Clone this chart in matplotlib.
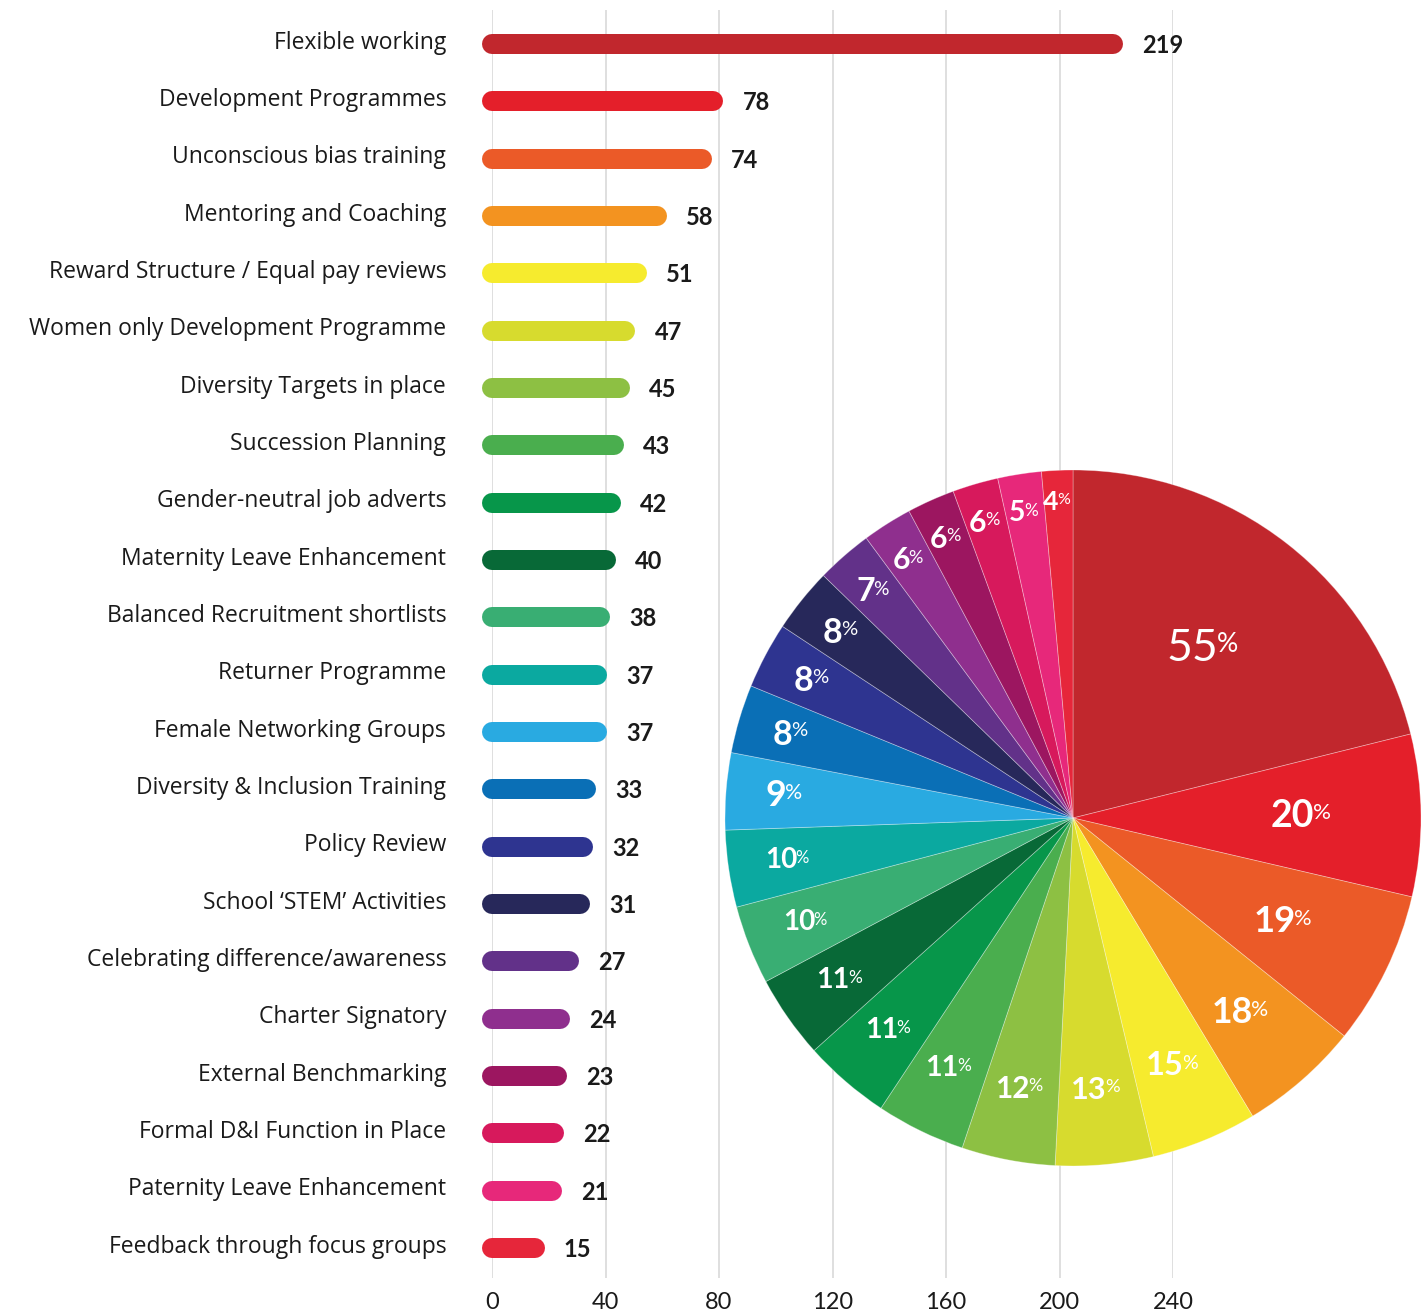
import numpy as np
import matplotlib.pyplot as plt

plt.rcParams['font.family'] = ['Lato', 'DejaVu Sans']

# data
labels = ['Flexible working', 'Development Programmes', 'Unconscious bias training',
          'Mentoring and Coaching', 'Reward Structure / Equal pay reviews',
          'Women only Development Programme', 'Diversity Targets in place',
          'Succession Planning', 'Gender-neutral job adverts', 'Maternity Leave Enhancement',
          'Balanced Recruitment shortlists', 'Returner Programme', 'Female Networking Groups',
          'Diversity & Inclusion Training', 'Policy Review', 'School \u2018STEM\u2019 Activities',
          'Celebrating difference/awareness', 'Charter Signatory', 'External Benchmarking',
          'Formal D&I Function in Place', 'Paternity Leave Enhancement',
          'Feedback through focus groups']
values = [219, 78, 74, 58, 51, 47, 45, 43, 42, 40, 38, 37, 37, 33, 32, 31, 27, 24, 23, 22, 21, 15]
pct_labels = [55, 20, 19, 18, 15, 13, 12, 11, 11, 11, 10, 10, 9, 8, 8, 8, 7, 6, 6, 6, 5, 4]
colors = ['#C1272D', '#E41F2A', '#EB5A28', '#F39320', '#F6EB2E', '#D7DB2E', '#8DC043',
          '#4AAE4E', '#07964A', '#086937', '#39AE73', '#0BA9A0', '#29AAE1', '#0A6FB6',
          '#2E3490', '#27285A', '#623189', '#8F2F8E', '#9C1660', '#D7195C', '#E7287A',
          '#E6263A']
xticks = [0, 40, 80, 120, 160, 200, 240]

W, H = 1427, 1314
fig = plt.figure(figsize=(W / 100, H / 100), dpi=100)
text_col = '#1a1a1a'

# bar chart
ax = fig.add_axes([492 / W, (H - 1278) / H, (1173 - 492) / W, (1278 - 10) / H])
n = len(values)
ypos = np.arange(n)
for y, v, c, lab in zip(ypos, values, colors, labels):
    ax.plot([0, v], [y, y], color=c, lw=14.4, solid_capstyle='round', clip_on=False, zorder=3)
    ax.annotate(str(v), xy=(v, y), xytext=(21, -1), textcoords='offset points',
                ha='left', va='center', fontsize=17, fontweight='bold', color=text_col)
    ax.annotate(lab, xy=(0, y), xytext=(-33, 1), textcoords='offset points',
                ha='right', va='center', fontsize=16.5, color=text_col, family='Open Sans')

ax.set_xlim(0, 240)
ax.set_ylim(n - 1 + 0.523, -0.593)
ax.set_yticks([])
ax.set_xticks(xticks)
ax.tick_params(axis='x', length=0, pad=10, labelsize=17, labelcolor=text_col)
ax.grid(axis='x', color='#dcdcdc', lw=1.3)
ax.set_axisbelow(True)
for s in ax.spines.values():
    s.set_visible(False)
ax.patch.set_alpha(0)

# pie chart
pax = fig.add_axes([725 / W, (H - 1166) / H, 696 / W, 696 / H])
wedges, _ = pax.pie(values, colors=colors, startangle=90, counterclock=False, radius=1,
                    wedgeprops=dict(edgecolor=(1, 1, 1, 0.35), linewidth=0.6))
pax.set_xlim(-1, 1)
pax.set_ylim(-1, 1)
pax.set_aspect('equal')
pax.axis('off')

for w, p in zip(wedges, pct_labels):
    span = np.deg2rad(abs(w.theta2 - w.theta1))
    mid = np.deg2rad((w.theta1 + w.theta2) / 2)
    r = np.clip(0.97 - 0.65 * span, 0.62, 0.91)
    fs = 14 + 1.3 * p if p < 10 else min(32, 13 + 0.7 * p)
    weight = 'normal' if p == max(pct_labels) else 'bold'
    num = pax.annotate(str(p), xy=(r * np.cos(mid), r * np.sin(mid)),
                       xytext=(-0.3 * fs, 0), textcoords='offset points',
                       ha='center', va='center', fontsize=fs, fontweight=weight, color='white')
    pax.annotate('%', xy=(1, 0.88), xycoords=num, xytext=(-1.0, 0), textcoords='offset points',
                 ha='left', va='top', fontsize=fs * 0.6, color='white')

fig.savefig('out.png', dpi=100)
